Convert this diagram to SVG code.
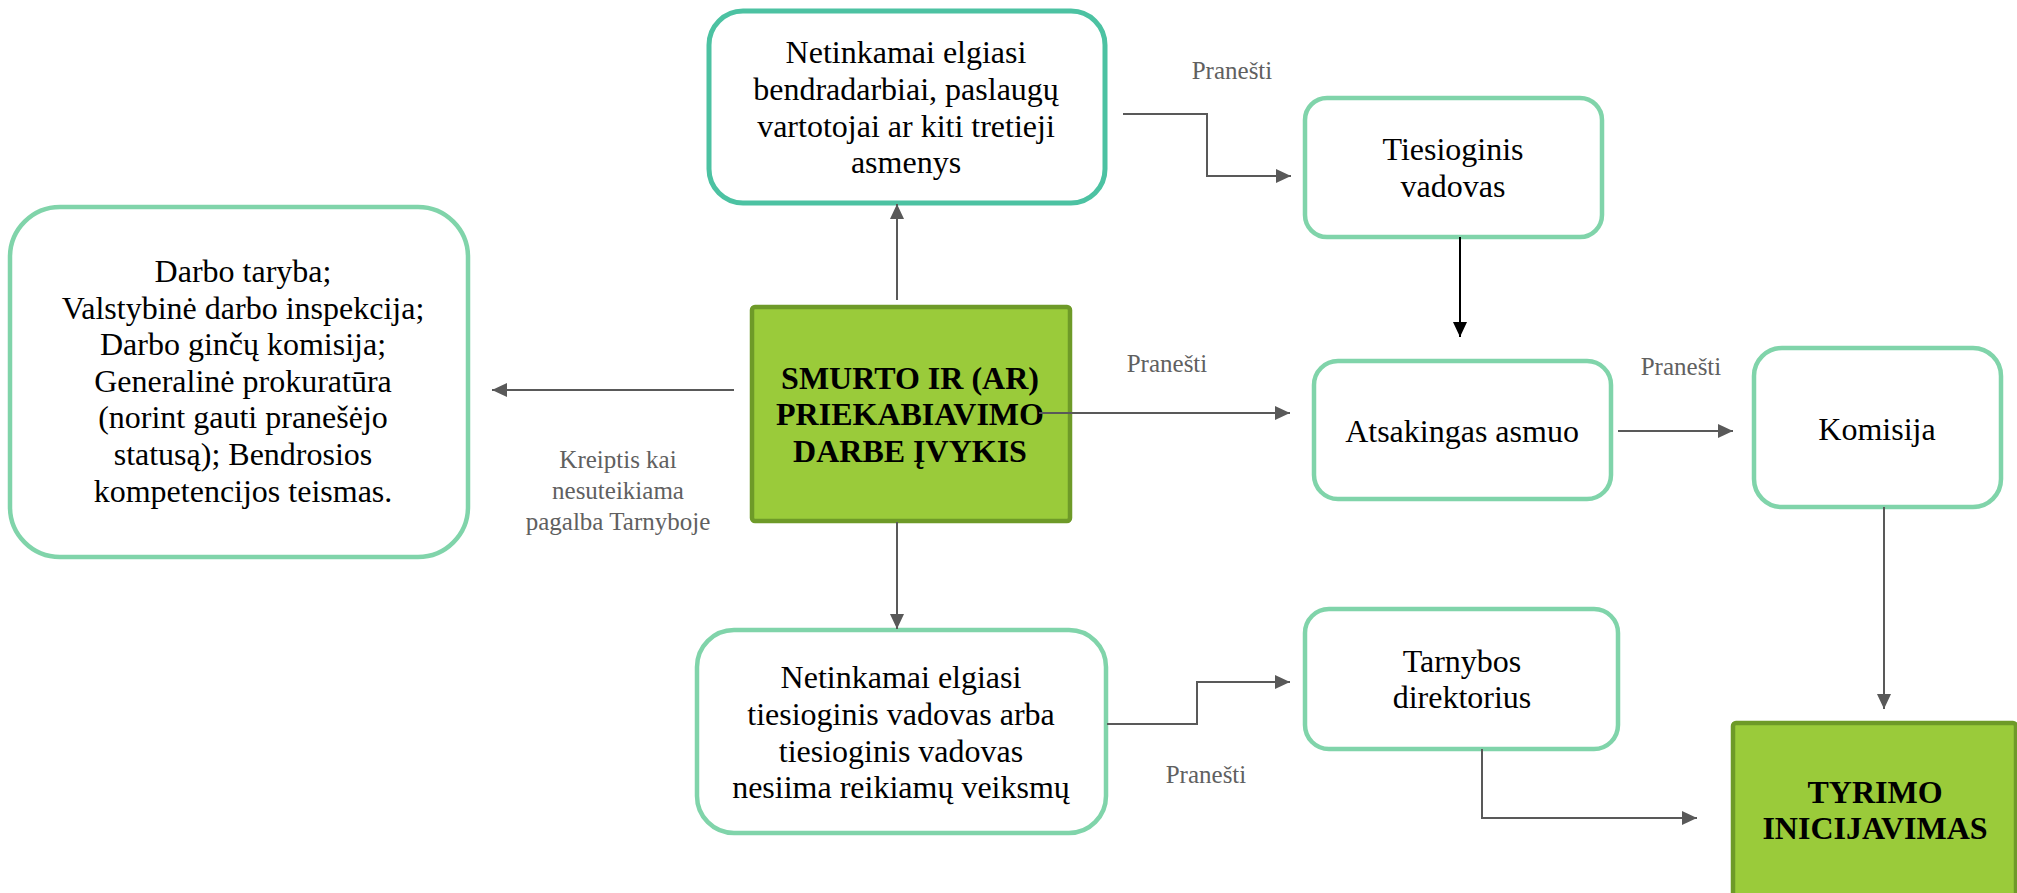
<svg xmlns="http://www.w3.org/2000/svg" width="2017" height="893" viewBox="0 0 2017 893">
<style>
.box{fill:#ffffff;stroke:#80D4AA;stroke-width:4.5}
.teal{fill:#ffffff;stroke:#4CC2A2;stroke-width:5}
.key{fill:#9ACB3A;stroke:#6E9A28;stroke-width:4.5}
.t{font-family:"Liberation Serif","Times New Roman",serif;font-size:32px;fill:#000;text-anchor:middle}
.b{font-weight:bold}
.lbl{font-family:"Liberation Serif","Times New Roman",serif;font-size:25px;fill:#606060;text-anchor:middle}
.c{fill:none;stroke:#595959;stroke-width:2}
.k{fill:none;stroke:#000;stroke-width:2}
</style>
<defs>
<marker id="ah" markerUnits="userSpaceOnUse" markerWidth="16" markerHeight="16" refX="15" refY="7" orient="auto">
<path d="M0,0 L15,7 L0,14 z" fill="#595959"/>
</marker>
<marker id="ahk" markerUnits="userSpaceOnUse" markerWidth="16" markerHeight="16" refX="15" refY="7" orient="auto">
<path d="M0,0 L15,7 L0,14 z" fill="#000"/>
</marker>
</defs>
<rect width="2017" height="893" fill="#ffffff"/>

<g id="node-top">
<rect class="teal" x="709" y="11" width="396" height="192" rx="34"/>
<text class="t"><tspan x="906" y="63">Netinkamai elgiasi</tspan><tspan x="906" y="100">bendradarbiai, paslaugų</tspan><tspan x="906" y="137">vartotojai ar kiti tretieji</tspan><tspan x="906" y="173">asmenys</tspan></text>
</g>

<g id="node-left">
<rect class="box" x="10" y="207" width="458" height="350" rx="50"/>
<text class="t"><tspan x="243" y="282">Darbo taryba;</tspan><tspan x="243" y="319">Valstybinė darbo inspekcija;</tspan><tspan x="243" y="355">Darbo ginčų komisija;</tspan><tspan x="243" y="392">Generalinė prokuratūra</tspan><tspan x="243" y="428">(norint gauti pranešėjo</tspan><tspan x="243" y="465">statusą); Bendrosios</tspan><tspan x="243" y="502">kompetencijos teismas.</tspan></text>
</g>

<g id="node-event">
<rect class="key" x="752" y="307" width="318" height="214" rx="3"/>
<text class="t b"><tspan x="910" y="389">SMURTO IR (AR)</tspan><tspan x="910" y="425">PRIEKABIAVIMO</tspan><tspan x="910" y="462">DARBE ĮVYKIS</tspan></text>
</g>

<g id="node-tiesioginis">
<rect class="box" x="1305" y="98" width="297" height="139" rx="22"/>
<text class="t"><tspan x="1453" y="160">Tiesioginis</tspan><tspan x="1453" y="197">vadovas</tspan></text>
</g>

<g id="node-atsakingas">
<rect class="box" x="1314" y="361" width="297" height="138" rx="24"/>
<text class="t" x="1462" y="442">Atsakingas asmuo</text>
</g>

<g id="node-komisija">
<rect class="box" x="1754" y="348" width="247" height="159" rx="28"/>
<text class="t" x="1877" y="440">Komisija</text>
</g>

<g id="node-bottom">
<rect class="box" x="697" y="630" width="409" height="203" rx="37"/>
<text class="t"><tspan x="901" y="688">Netinkamai elgiasi</tspan><tspan x="901" y="725">tiesioginis vadovas arba</tspan><tspan x="901" y="762">tiesioginis vadovas</tspan><tspan x="901" y="798">nesiima reikiamų veiksmų</tspan></text>
</g>

<g id="node-tarnybos">
<rect class="box" x="1305" y="609" width="313" height="140" rx="24"/>
<text class="t"><tspan x="1462" y="672">Tarnybos</tspan><tspan x="1462" y="708">direktorius</tspan></text>
</g>

<g id="node-tyrimo">
<rect class="key" x="1733" y="723" width="283" height="190" rx="3"/>
<text class="t b"><tspan x="1875" y="803">TYRIMO</tspan><tspan x="1875" y="839">INICIJAVIMAS</tspan></text>
</g>

<g id="connectors">
<path class="c" d="M897,300 L897,204" marker-end="url(#ah)"/>
<path class="c" d="M897,522 L897,629" marker-end="url(#ah)"/>
<path class="c" d="M734,390 L492,390" marker-end="url(#ah)"/>
<path class="c" d="M1039,413 L1290,413" marker-end="url(#ah)"/>
<path class="c" d="M1123,114 L1207,114 L1207,176 L1291,176" marker-end="url(#ah)"/>
<path class="k" d="M1460,237 L1460,337" marker-end="url(#ahk)"/>
<path class="c" d="M1618,431 L1733,431" marker-end="url(#ah)"/>
<path class="c" d="M1884,507 L1884,709" marker-end="url(#ah)"/>
<path class="c" d="M1107,724 L1197,724 L1197,682 L1290,682" marker-end="url(#ah)"/>
<path class="c" d="M1482,749 L1482,818 L1697,818" marker-end="url(#ah)"/>
<text class="lbl" x="1232" y="79">Pranešti</text>
<text class="lbl" x="1167" y="372">Pranešti</text>
<text class="lbl" x="1681" y="375">Pranešti</text>
<text class="lbl" x="1206" y="783">Pranešti</text>
<text class="lbl"><tspan x="618" y="468">Kreiptis kai</tspan><tspan x="618" y="499">nesuteikiama</tspan><tspan x="618" y="530">pagalba Tarnyboje</tspan></text>
</g>
</svg>
